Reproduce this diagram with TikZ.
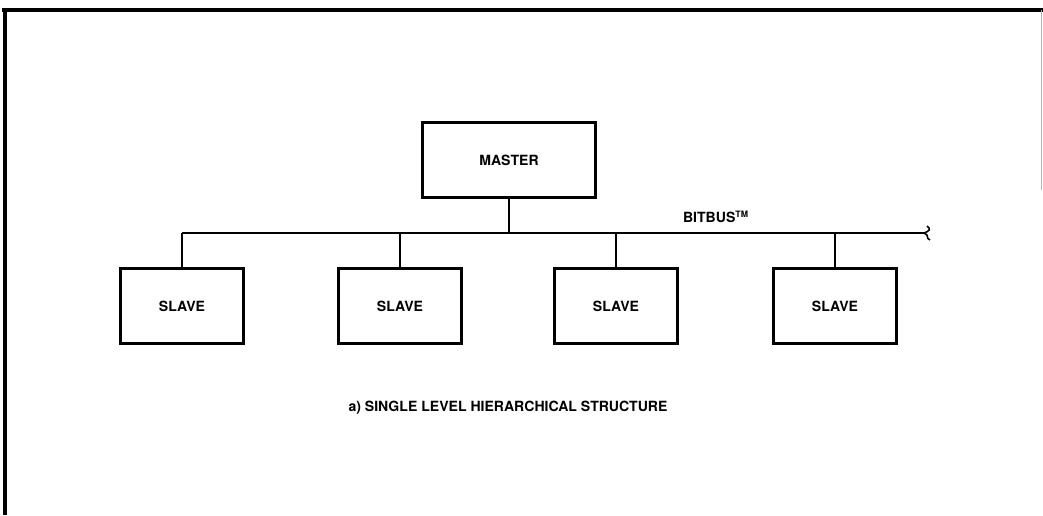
\documentclass[tikz,border=0pt]{standalone}
\usepackage{fontspec}
\setmainfont{TeX Gyre Heros}
\usetikzlibrary{positioning}

\begin{document}
\begin{tikzpicture}[x=0.02cm, y=-0.02cm, font=\fontsize{8}{9.5}\selectfont\bfseries,
  box/.style={draw, line width=1.5pt, minimum width=#1, minimum height=1.5cm, inner sep=0pt},
  box/.default=2.45cm, wire/.style={line width=0.9pt}]
\useasboundingbox (0,0) rectangle (1043,515);
% frame
\draw[line width=2.2pt] (2,10) -- (1043,10);
\draw[line width=2.2pt] (5,9) -- (5,515);
\draw[black!30, line width=0.4pt] (1041,10) -- (1041,190);
\node[box=3.45cm] (master) at (509,160) {MASTER};
\coordinate (busl) at (182,233);
\coordinate (busr) at (924,233);
\node (bitbus) at (716,217) {BITBUS\textsuperscript{\tiny TM}};
\foreach \n/\x in {1/182,2/400,3/616,4/835}
  \node[box] (s\n) at (\x,306) {SLAVE};
\draw[wire] (master.south) -- (master.south |- busl);
\draw[wire] (busl) -- (busr) .. controls (930,231) and (931,229) .. (927,226);
\draw[wire] (busr) .. controls (930,235) and (925,238) .. (930,240);
\foreach \n in {1,2,3,4} \draw[wire] (s\n.north) -- (s\n.north |- busl);
\node (caption) at (508,408) {a) SINGLE LEVEL HIERARCHICAL STRUCTURE};
\end{tikzpicture}
\end{document}
